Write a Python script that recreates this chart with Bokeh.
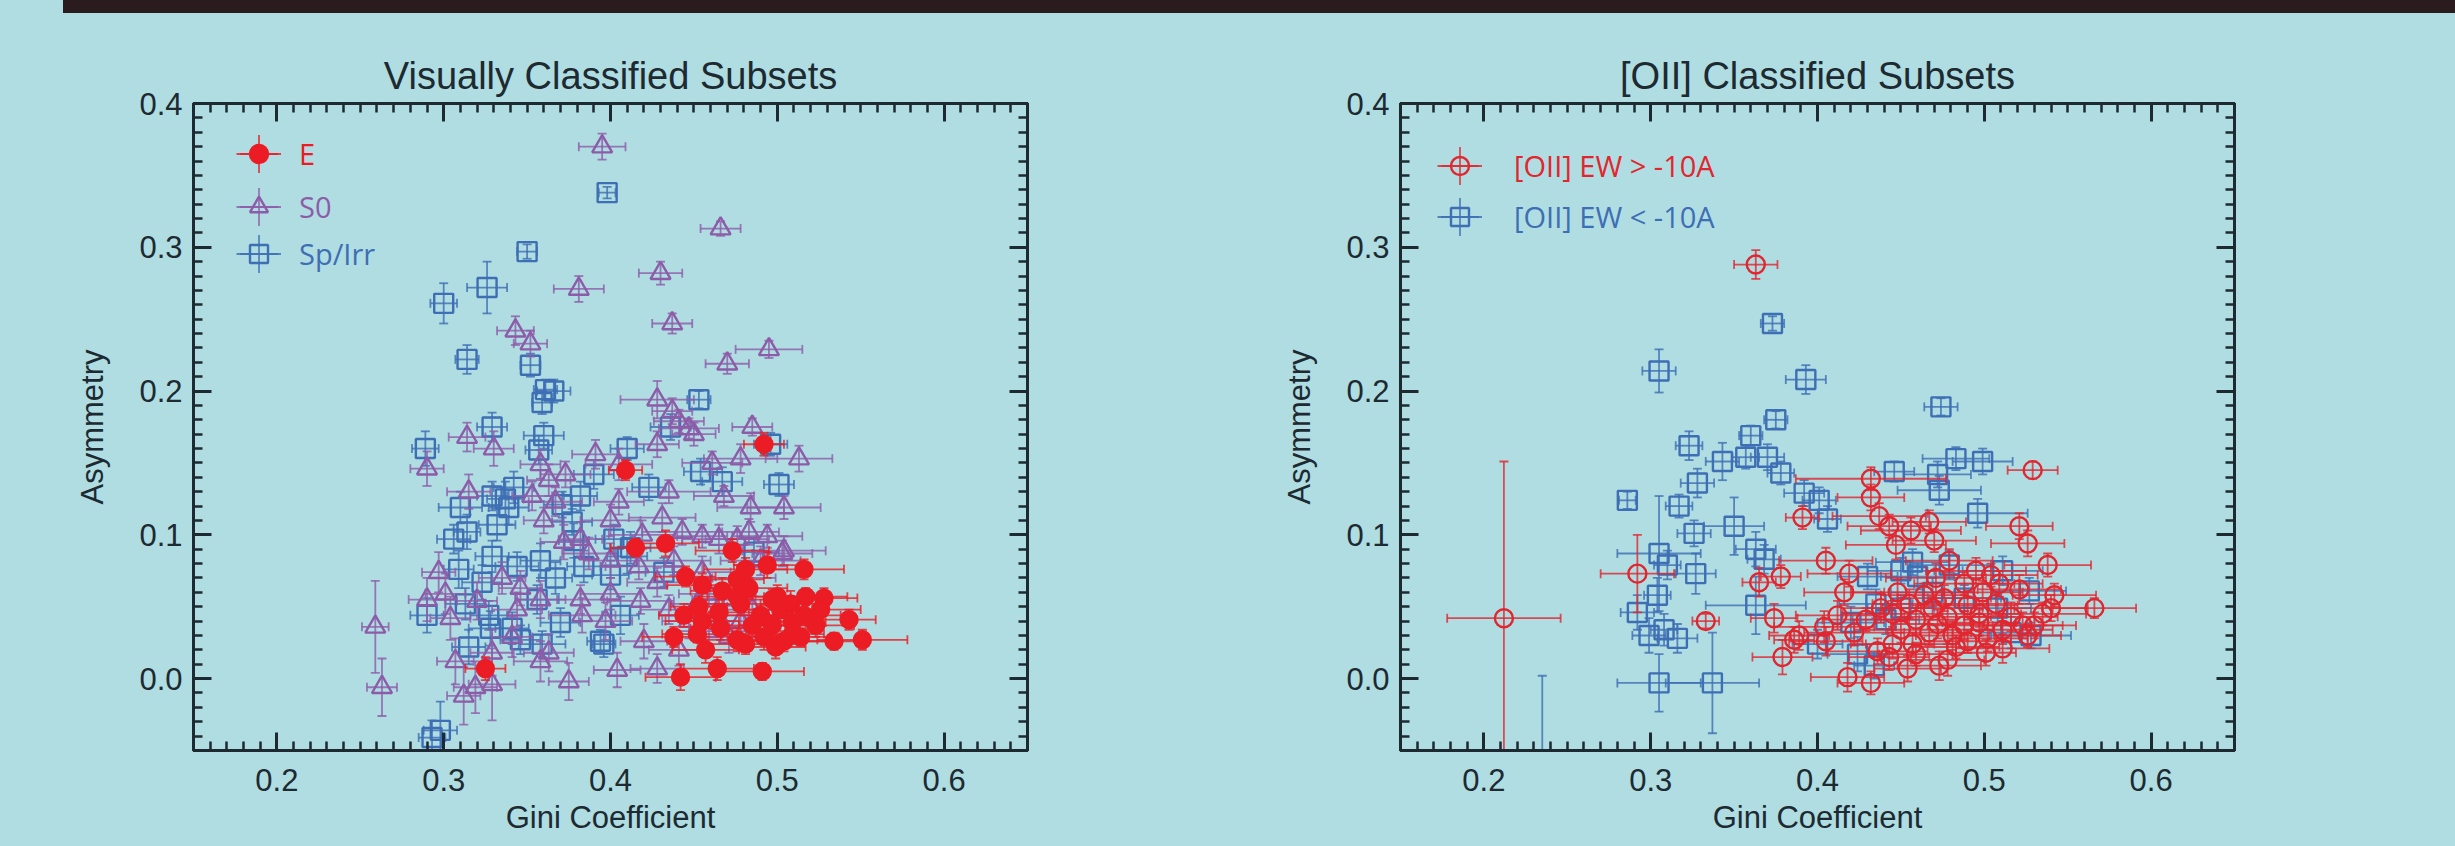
import numpy as np
from bokeh.plotting import figure
from bokeh.models import (ColumnDataSource, LinearAxis, Range1d, FixedTicker,
                          NumeralTickFormatter, Legend, LegendItem, Div)
from bokeh.layouts import column, row
from bokeh.embed import file_html
from bokeh.resources import INLINE

BG = "#afdde2"
INK = "#1d2a31"
BAR = "#2a1b1f"

# ---------------- axes ----------------
x_major = [0.2, 0.3, 0.4, 0.5, 0.6]
y_major = [0.0, 0.1, 0.2, 0.3, 0.4]
x_limits = (0.15, 0.65)
y_limits = (-0.05, 0.40)
x_label = "Gini Coefficient"
y_label = "Asymmetry"

# ---------------- left panel: Visually classified ----------------
left_title = "Visually Classified Subsets"

e_gini = [0.492, 0.409, 0.415, 0.433, 0.473, 0.445, 0.481, 0.494, 0.516, 0.476,
          0.455, 0.467, 0.483, 0.500, 0.517, 0.528, 0.508, 0.478, 0.453, 0.444,
          0.465, 0.490, 0.502, 0.516, 0.543, 0.523, 0.509, 0.485, 0.466, 0.452,
          0.438, 0.476, 0.492, 0.504, 0.534, 0.551, 0.499, 0.457, 0.481, 0.464,
          0.491, 0.442, 0.325, 0.509, 0.526, 0.497, 0.476, 0.455, 0.497, 0.514]
e_asym = [0.163, 0.145, 0.091, 0.094, 0.089, 0.071, 0.076, 0.079, 0.076, 0.069,
          0.065, 0.061, 0.063, 0.057, 0.057, 0.056, 0.052, 0.052, 0.050, 0.044,
          0.046, 0.044, 0.048, 0.044, 0.041, 0.037, 0.039, 0.037, 0.035, 0.031,
          0.029, 0.027, 0.029, 0.026, 0.026, 0.027, 0.022, 0.020, 0.024, 0.007,
          0.005, 0.001, 0.007, 0.031, 0.048, 0.055, 0.057, 0.040, 0.037, 0.029]
e_gerr = [0.012, 0.010, 0.015, 0.020, 0.022, 0.018, 0.025, 0.020, 0.024, 0.016,
          0.021, 0.019, 0.023, 0.022, 0.025, 0.020, 0.018, 0.026, 0.017, 0.015,
          0.021, 0.024, 0.019, 0.022, 0.016, 0.023, 0.020, 0.025, 0.018, 0.021,
          0.019, 0.024, 0.022, 0.026, 0.020, 0.027, 0.018, 0.020, 0.023, 0.022,
          0.025, 0.021, 0.012, 0.019, 0.024, 0.021, 0.018, 0.022, 0.020, 0.023]
e_aerr = [0.008, 0.007, 0.006, 0.009, 0.008, 0.007, 0.008, 0.009, 0.007, 0.010,
          0.008, 0.009, 0.007, 0.008, 0.006, 0.007, 0.009, 0.008, 0.007, 0.008,
          0.009, 0.007, 0.008, 0.006, 0.007, 0.008, 0.009, 0.007, 0.008, 0.006,
          0.007, 0.008, 0.009, 0.007, 0.006, 0.007, 0.008, 0.009, 0.007, 0.008,
          0.006, 0.009, 0.008, 0.007, 0.008, 0.007, 0.009, 0.008, 0.007, 0.006]

s0_gini = [0.395, 0.466, 0.430, 0.381, 0.437, 0.343, 0.352, 0.495, 0.470, 0.428,
           0.437, 0.441, 0.447, 0.450, 0.485, 0.314, 0.330, 0.428, 0.290, 0.391,
           0.405, 0.358, 0.373, 0.461, 0.478, 0.513, 0.435, 0.468, 0.405, 0.484,
           0.504, 0.315, 0.367, 0.360, 0.400, 0.431, 0.443, 0.455, 0.465, 0.483,
           0.494, 0.504, 0.382, 0.387, 0.417, 0.428, 0.301, 0.290, 0.335, 0.346,
           0.358, 0.382, 0.400, 0.418, 0.435, 0.447, 0.459, 0.468, 0.478, 0.459,
           0.452, 0.320, 0.344, 0.259, 0.263, 0.307, 0.312, 0.319, 0.329, 0.358,
           0.375, 0.404, 0.428, 0.441, 0.420, 0.397, 0.383, 0.438, 0.455, 0.480,
           0.490, 0.503, 0.400, 0.341, 0.329, 0.363, 0.304, 0.297, 0.419, 0.372,
           0.363, 0.353, 0.476, 0.485, 0.464, 0.471]
s0_asym = [0.370, 0.313, 0.282, 0.271, 0.247, 0.242, 0.233, 0.229, 0.219, 0.194,
           0.186, 0.179, 0.174, 0.170, 0.175, 0.168, 0.160, 0.163, 0.146, 0.156,
           0.149, 0.149, 0.142, 0.150, 0.153, 0.153, 0.130, 0.127, 0.123, 0.119,
           0.119, 0.130, 0.123, 0.110, 0.110, 0.112, 0.102, 0.099, 0.097, 0.102,
           0.099, 0.089, 0.097, 0.087, 0.078, 0.067, 0.059, 0.055, 0.070, 0.063,
           0.055, 0.055, 0.059, 0.054, 0.048, 0.040, 0.033, 0.055, 0.040, 0.059,
           0.052, 0.054, 0.048, 0.036, -0.006, 0.012, -0.012, -0.006, -0.004, 0.012,
           -0.002, 0.006, 0.007, 0.020, 0.026, 0.040, 0.044, 0.082, 0.074, 0.070,
           0.082, 0.087, 0.082, 0.029, 0.018, 0.018, 0.042, 0.074, 0.100, 0.095,
           0.138, 0.127, 0.097, 0.048, 0.044, 0.029]
s0_gerr = [0.014, 0.012, 0.013, 0.015, 0.012, 0.011, 0.010, 0.020, 0.013, 0.022,
           0.012, 0.015, 0.018, 0.013, 0.012, 0.011, 0.012, 0.013, 0.010, 0.014,
           0.020, 0.012, 0.015, 0.018, 0.022, 0.020, 0.025, 0.018, 0.015, 0.020,
           0.022, 0.013, 0.016, 0.012, 0.018, 0.020, 0.024, 0.015, 0.022, 0.018,
           0.021, 0.025, 0.013, 0.016, 0.020, 0.018, 0.012, 0.011, 0.014, 0.013,
           0.015, 0.014, 0.018, 0.020, 0.017, 0.016, 0.022, 0.019, 0.021, 0.018,
           0.016, 0.012, 0.015, 0.008, 0.009, 0.011, 0.010, 0.013, 0.014, 0.016,
           0.012, 0.014, 0.016, 0.018, 0.014, 0.016, 0.020, 0.022, 0.017, 0.019,
           0.024, 0.018, 0.016, 0.012, 0.013, 0.015, 0.012, 0.010, 0.020, 0.014,
           0.013, 0.012, 0.019, 0.021, 0.016, 0.018]
s0_aerr = [0.009, 0.005, 0.008, 0.009, 0.007, 0.010, 0.009, 0.006, 0.007, 0.013,
           0.009, 0.008, 0.007, 0.008, 0.006, 0.010, 0.012, 0.009, 0.012, 0.010,
           0.011, 0.010, 0.009, 0.008, 0.010, 0.009, 0.008, 0.007, 0.009, 0.010,
           0.008, 0.012, 0.010, 0.009, 0.011, 0.010, 0.009, 0.008, 0.010, 0.009,
           0.008, 0.010, 0.012, 0.011, 0.009, 0.010, 0.014, 0.015, 0.011, 0.012,
           0.013, 0.010, 0.011, 0.009, 0.010, 0.012, 0.009, 0.010, 0.011, 0.009,
           0.010, 0.013, 0.012, 0.032, 0.020, 0.016, 0.020, 0.018, 0.025, 0.014,
           0.013, 0.012, 0.010, 0.011, 0.012, 0.013, 0.012, 0.010, 0.011, 0.009,
           0.010, 0.009, 0.012, 0.014, 0.016, 0.013, 0.015, 0.014, 0.010, 0.012,
           0.011, 0.010, 0.009, 0.010, 0.012, 0.011]

sp_gini = [0.398, 0.350, 0.326, 0.300, 0.314, 0.352, 0.361, 0.366, 0.359, 0.453,
           0.289, 0.329, 0.360, 0.357, 0.410, 0.436, 0.496, 0.454, 0.467, 0.501,
           0.390, 0.423, 0.342, 0.337, 0.329, 0.310, 0.339, 0.382, 0.371, 0.314,
           0.306, 0.332, 0.377, 0.378, 0.402, 0.329, 0.358, 0.309, 0.344, 0.384,
           0.410, 0.400, 0.486, 0.323, 0.367, 0.356, 0.290, 0.313, 0.327, 0.328,
           0.341, 0.370, 0.406, 0.346, 0.359, 0.394, 0.315, 0.396, 0.293, 0.298,
           0.412, 0.432]
sp_asym = [0.338, 0.297, 0.272, 0.261, 0.222, 0.218, 0.201, 0.200, 0.192, 0.194,
           0.160, 0.175, 0.169, 0.159, 0.160, 0.175, 0.163, 0.144, 0.137, 0.135,
           0.142, 0.133, 0.133, 0.125, 0.127, 0.119, 0.119, 0.127, 0.121, 0.102,
           0.097, 0.107, 0.109, 0.096, 0.097, 0.085, 0.082, 0.076, 0.078, 0.078,
           0.085, 0.072, 0.088, 0.067, 0.070, 0.055, 0.044, 0.052, 0.044, 0.035,
           0.035, 0.039, 0.044, 0.027, 0.024, 0.026, 0.022, 0.024, -0.041, -0.036,
           0.091, 0.074]
sp_gerr = [0.005, 0.006, 0.012, 0.008, 0.007, 0.006, 0.007, 0.010, 0.006, 0.007,
           0.008, 0.009, 0.012, 0.008, 0.010, 0.012, 0.010, 0.010, 0.012, 0.009,
           0.012, 0.010, 0.012, 0.011, 0.009, 0.013, 0.012, 0.010, 0.011, 0.008,
           0.010, 0.011, 0.012, 0.009, 0.011, 0.010, 0.012, 0.009, 0.013, 0.010,
           0.012, 0.011, 0.015, 0.012, 0.010, 0.013, 0.010, 0.012, 0.011, 0.013,
           0.010, 0.012, 0.011, 0.012, 0.014, 0.008, 0.010, 0.007, 0.008, 0.010,
           0.012, 0.011]
sp_aerr = [0.004, 0.005, 0.018, 0.014, 0.010, 0.008, 0.007, 0.008, 0.008, 0.006,
           0.012, 0.010, 0.009, 0.010, 0.008, 0.009, 0.008, 0.009, 0.010, 0.008,
           0.010, 0.009, 0.011, 0.012, 0.010, 0.011, 0.012, 0.010, 0.009, 0.012,
           0.010, 0.011, 0.009, 0.012, 0.010, 0.011, 0.012, 0.013, 0.010, 0.011,
           0.012, 0.010, 0.009, 0.012, 0.011, 0.010, 0.012, 0.011, 0.010, 0.012,
           0.011, 0.010, 0.013, 0.010, 0.009, 0.008, 0.012, 0.009, 0.012, 0.020,
           0.011, 0.010]

# ---------------- right panel: [OII] classified ----------------
right_title = "[OII] Classified Subsets"

hi_gini = [0.363, 0.529, 0.432, 0.432, 0.391, 0.437, 0.443, 0.456, 0.467, 0.521,
           0.470, 0.526, 0.447, 0.405, 0.538, 0.292, 0.365, 0.378, 0.419, 0.471,
           0.504, 0.416, 0.542, 0.566, 0.333, 0.374, 0.386, 0.389, 0.404, 0.405,
           0.379, 0.418, 0.432, 0.454, 0.473, 0.478, 0.501, 0.526, 0.436, 0.445,
           0.450, 0.459, 0.469, 0.478, 0.488, 0.497, 0.507, 0.516, 0.523, 0.535,
           0.540, 0.511, 0.502, 0.490, 0.481, 0.467, 0.457, 0.445, 0.455, 0.464,
           0.476, 0.490, 0.499, 0.509, 0.521, 0.488, 0.448, 0.438, 0.429, 0.422,
           0.412, 0.497, 0.483, 0.511, 0.530, 0.459, 0.443, 0.472, 0.495, 0.479,
           0.212]
hi_asym = [0.288, 0.145, 0.139, 0.126, 0.112, 0.113, 0.106, 0.103, 0.109, 0.106,
           0.096, 0.094, 0.093, 0.082, 0.079, 0.073, 0.067, 0.071, 0.073, 0.070,
           0.072, 0.060, 0.058, 0.049, 0.040, 0.042, 0.027, 0.030, 0.036, 0.026,
           0.015, 0.001, -0.003, 0.007, 0.009, 0.013, 0.018, 0.030, 0.019, 0.024,
           0.034, 0.041, 0.049, 0.043, 0.037, 0.045, 0.052, 0.043, 0.037, 0.045,
           0.049, 0.034, 0.028, 0.026, 0.030, 0.032, 0.024, 0.045, 0.052, 0.058,
           0.056, 0.051, 0.060, 0.066, 0.062, 0.066, 0.060, 0.049, 0.041, 0.032,
           0.044, 0.039, 0.022, 0.021, 0.037, 0.017, 0.015, 0.038, 0.075, 0.082,
           0.042]
hi_gerr = [0.013, 0.015, 0.045, 0.020, 0.010, 0.028, 0.025, 0.030, 0.022, 0.020,
           0.025, 0.022, 0.030, 0.028, 0.026, 0.022, 0.010, 0.012, 0.025, 0.030,
           0.028, 0.024, 0.025, 0.025, 0.008, 0.014, 0.012, 0.018, 0.030, 0.022,
           0.018, 0.022, 0.020, 0.020, 0.025, 0.022, 0.018, 0.020, 0.030, 0.025,
           0.028, 0.024, 0.030, 0.026, 0.022, 0.025, 0.030, 0.028, 0.024, 0.026,
           0.022, 0.030, 0.024, 0.026, 0.022, 0.025, 0.028, 0.030, 0.022, 0.026,
           0.028, 0.030, 0.024, 0.026, 0.025, 0.030, 0.028, 0.024, 0.026, 0.030,
           0.025, 0.022, 0.026, 0.028, 0.025, 0.022, 0.024, 0.028, 0.030, 0.026,
           0.034]
hi_aerr = [0.010, 0.006, 0.008, 0.009, 0.008, 0.009, 0.008, 0.009, 0.008, 0.009,
           0.008, 0.009, 0.010, 0.009, 0.008, 0.027, 0.010, 0.008, 0.009, 0.010,
           0.008, 0.009, 0.008, 0.007, 0.005, 0.010, 0.009, 0.010, 0.011, 0.010,
           0.012, 0.010, 0.008, 0.009, 0.010, 0.011, 0.009, 0.008, 0.009, 0.010,
           0.009, 0.010, 0.008, 0.009, 0.010, 0.009, 0.008, 0.010, 0.009, 0.008,
           0.009, 0.010, 0.009, 0.008, 0.010, 0.009, 0.008, 0.009, 0.010, 0.008,
           0.009, 0.010, 0.008, 0.009, 0.010, 0.008, 0.009, 0.010, 0.008, 0.009,
           0.010, 0.009, 0.008, 0.010, 0.009, 0.008, 0.009, 0.010, 0.009, 0.008,
           0.109]

lo_gini = [0.373, 0.305, 0.393, 0.474, 0.375, 0.360, 0.323, 0.343, 0.357, 0.370,
           0.378, 0.483, 0.499, 0.446, 0.472, 0.328, 0.392, 0.473, 0.286, 0.317,
           0.401, 0.406, 0.496, 0.350, 0.326, 0.363, 0.305, 0.310, 0.368, 0.327,
           0.457, 0.479, 0.450, 0.511, 0.430, 0.304, 0.363, 0.527, 0.292, 0.299,
           0.308, 0.316, 0.420, 0.400, 0.424, 0.434, 0.305, 0.337, 0.435, 0.450,
           0.469, 0.488, 0.508, 0.516, 0.528, 0.441, 0.460, 0.235]
lo_asym = [0.247, 0.214, 0.208, 0.189, 0.180, 0.169, 0.162, 0.151, 0.154, 0.154,
           0.143, 0.153, 0.151, 0.144, 0.142, 0.136, 0.129, 0.131, 0.124, 0.120,
           0.124, 0.111, 0.115, 0.106, 0.101, 0.090, 0.087, 0.079, 0.083, 0.073,
           0.081, 0.079, 0.075, 0.075, 0.071, 0.058, 0.051, 0.061, 0.046, 0.030,
           0.034, 0.028, 0.039, 0.024, 0.017, 0.009, -0.003, -0.003, 0.052, 0.049,
           0.060, 0.056, 0.049, 0.032, 0.030, 0.041, 0.071, -0.100]
lo_gerr = [0.007, 0.010, 0.012, 0.010, 0.007, 0.007, 0.008, 0.010, 0.008, 0.010,
           0.008, 0.020, 0.018, 0.012, 0.020, 0.010, 0.012, 0.025, 0.005, 0.008,
           0.010, 0.008, 0.030, 0.018, 0.010, 0.012, 0.025, 0.008, 0.010, 0.012,
           0.022, 0.025, 0.020, 0.024, 0.018, 0.008, 0.030, 0.022, 0.010, 0.010,
           0.008, 0.012, 0.020, 0.015, 0.018, 0.012, 0.025, 0.028, 0.022, 0.020,
           0.025, 0.022, 0.020, 0.018, 0.024, 0.020, 0.022, 0.010]
lo_aerr = [0.005, 0.015, 0.010, 0.006, 0.006, 0.007, 0.010, 0.013, 0.008, 0.009,
           0.008, 0.008, 0.009, 0.007, 0.009, 0.010, 0.009, 0.010, 0.006, 0.008,
           0.009, 0.009, 0.010, 0.020, 0.009, 0.012, 0.040, 0.010, 0.010, 0.014,
           0.009, 0.010, 0.009, 0.010, 0.009, 0.012, 0.020, 0.009, 0.012, 0.012,
           0.011, 0.010, 0.011, 0.010, 0.012, 0.009, 0.020, 0.035, 0.010, 0.009,
           0.010, 0.009, 0.010, 0.011, 0.009, 0.010, 0.009, 0.102]

# ---------------- drawing helpers ----------------
TICK_FONT = "Liberation Sans"
LEG_FONT = "Open Sans"


def add_axis(p, side, major, lo, hi, labelled, label=None):
    minor = [round(v, 3) for v in np.arange(lo, hi + 1e-9, 0.01)]
    ax = LinearAxis(ticker=FixedTicker(ticks=major, minor_ticks=minor),
                    formatter=NumeralTickFormatter(format="0.0"))
    ax.axis_line_color = INK
    ax.axis_line_width = 3
    ax.major_tick_in = 18
    ax.major_tick_out = 0
    ax.major_tick_line_color = INK
    ax.major_tick_line_width = 3
    ax.minor_tick_in = 9
    ax.minor_tick_out = 0
    ax.minor_tick_line_color = INK
    ax.minor_tick_line_width = 2.5
    if labelled:
        ax.major_label_text_font = TICK_FONT
        ax.major_label_text_font_size = "31px"
        ax.major_label_text_color = INK
        ax.axis_label = label
        ax.axis_label_text_font = TICK_FONT
        ax.axis_label_text_font_size = "31px"
        ax.axis_label_text_font_style = "normal"
        ax.axis_label_text_color = INK
        if side == "below":
            ax.major_label_standoff = 18
            ax.axis_label_standoff = 6
        else:
            ax.major_label_standoff = 11
            ax.axis_label_standoff = 26
    else:
        ax.major_label_text_font_size = "0px"
        ax.major_label_text_color = None
        ax.major_label_standoff = 0
    p.add_layout(ax, side)


def add_series(p, gini, asym, gerr, aerr, color, marker, size, filled):
    g = np.array(gini)
    a = np.array(asym)
    ge = np.array(gerr)
    ae = np.array(aerr)
    src = ColumnDataSource(dict(x=g, y=a, xl=g - ge, xr=g + ge, yl=a - ae, yh=a + ae))
    hseg = p.segment(x0="xl", y0="y", x1="xr", y1="y", source=src,
                     line_color=color, line_width=1.8, line_alpha=0.8)
    p.segment(x0="x", y0="yl", x1="x", y1="yh", source=src,
              line_color=color, line_width=1.8, line_alpha=0.8)
    for cx in ("xl", "xr"):
        p.scatter(x=cx, y="y", source=src, marker="dash", angle=np.pi / 2, size=9,
                  line_color=color, line_width=1.8, line_alpha=0.8)
    for cy in ("yl", "yh"):
        p.scatter(x="x", y=cy, source=src, marker="dash", size=9,
                  line_color=color, line_width=1.8, line_alpha=0.8)
    mk = p.scatter(x="x", y="y", source=src, marker=marker, size=size,
                   line_color=color, line_width=2.4,
                   fill_color=color if filled else None)
    # key-only renderer (a single NaN row, never drawn in the frame):
    # it draws the long error-bar cross of the legend key
    key = p.scatter(x="x", y="y", source=ColumnDataSource(dict(x=[np.nan], y=[np.nan])),
                    marker="cross", line_color=color, line_width=1.8, line_alpha=0.8)
    return hseg, mk, key


def add_legend(p, label, rends, color, loc, standoff):
    hseg, mk, key = rends
    big = Legend(items=[LegendItem(label="", renderers=[key])],
                 location=(loc[0] + 22.5 - 47.5, loc[1] + 22.5 - 47.5),
                 glyph_width=95, glyph_height=95, label_standoff=0,
                 padding=0, margin=0, spacing=0, border_line_color=None,
                 background_fill_alpha=0, label_text_font_size="1px",
                 label_text_color=None)
    p.add_layout(big)
    leg = Legend(items=[LegendItem(label=label, renderers=[hseg, mk])],
                 location=loc, glyph_width=45, glyph_height=45, label_standoff=standoff,
                 padding=0, margin=0, spacing=0, border_line_color=None,
                 background_fill_alpha=0, label_text_font=LEG_FONT,
                 label_text_font_size="29px", label_text_color=color)
    p.add_layout(leg)


def make_panel(title, border_left, border_right):
    p = figure(frame_width=834, frame_height=647,
               x_range=Range1d(*x_limits), y_range=Range1d(*y_limits),
               output_backend="svg", toolbar_location=None,
               x_axis_location=None, y_axis_location=None,
               min_border_left=border_left, min_border_right=border_right,
               min_border_top=90, min_border_bottom=96,
               background_fill_color=BG, border_fill_color=BG,
               outline_line_color=INK, outline_line_width=3,
               styles={"background-color": BG})
    p.grid.visible = False
    p.title.text = title
    p.title.text_font = TICK_FONT
    p.title.text_font_size = "38px"
    p.title.text_font_style = "normal"
    p.title.text_color = INK
    p.title.align = "center"
    p.title.standoff = 14
    add_axis(p, "below", x_major, x_limits[0], x_limits[1], True, x_label)
    add_axis(p, "left", y_major, y_limits[0], y_limits[1], True, y_label)
    add_axis(p, "above", x_major, x_limits[0], x_limits[1], False)
    add_axis(p, "right", y_major, y_limits[0], y_limits[1], False)
    return p


RED = "#ec1c24"
PURPLE = "#8d5ca9"
BLUE = "#3e6eb4"
RED2 = "#e2262f"

# left figure
p1 = make_panel(left_title, 193, 200)
sp_r = add_series(p1, sp_gini, sp_asym, sp_gerr, sp_aerr, BLUE, "square", 19, False)
s0_r = add_series(p1, s0_gini, s0_asym, s0_gerr, s0_aerr, PURPLE, "triangle", 20, False)
e_r = add_series(p1, e_gini, e_asym, e_gerr, e_aerr, RED, "circle", 17, True)
add_legend(p1, "E", e_r, RED, (43, 574), 18)
add_legend(p1, "S0", s0_r, PURPLE, (43, 521), 18)
add_legend(p1, "Sp/Irr", sp_r, BLUE, (43, 474), 18)

# right figure
p2 = make_panel(right_title, 173, 221)
lo_r = add_series(p2, lo_gini, lo_asym, lo_gerr, lo_aerr, BLUE, "square", 19, False)
hi_r = add_series(p2, hi_gini, hi_asym, hi_gerr, hi_aerr, RED2, "circle", 18, False)
add_legend(p2, "[OII] EW > -10A", hi_r, RED2, (37, 562), 32)
add_legend(p2, "[OII] EW < -10A", lo_r, BLUE, (37, 511), 32)

top_left = Div(text="", width=63, height=13, margin=0,
               styles={"background-color": BG})
top_bar = Div(text="", width=2392, height=13, margin=0,
              styles={"background-color": BAR})
top_row = row(top_left, top_bar, spacing=0, margin=0,
              styles={"background-color": BG})
plots_row = row(p1, p2, spacing=0, margin=0, styles={"background-color": BG})
layout = column(top_row, plots_row, spacing=0, margin=0,
                styles={"background-color": BG})

open("out.html", "w").write(file_html(layout, INLINE))
